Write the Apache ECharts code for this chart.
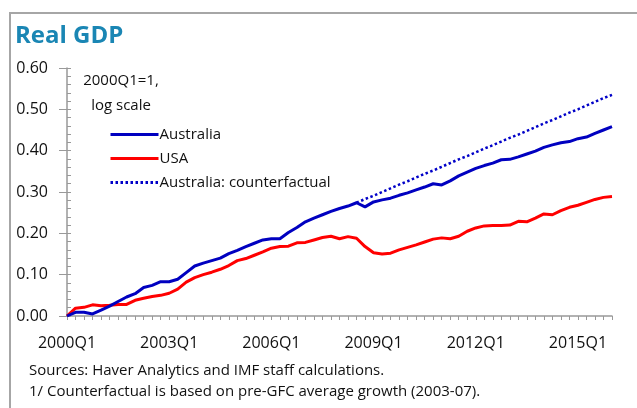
<!DOCTYPE html>
<html>
<head>
<meta charset="utf-8">
<script src="https://cdn.jsdelivr.net/npm/echarts@6/dist/echarts.min.js"></script>
<style>
  html, body { margin: 0; padding: 0; background: #fff; }
  #chart { width: 637px; height: 408px; }
</style>
</head>
<body>
<div id="chart"></div>
<script>
// quarters 2000Q1 .. 2016Q1
const quarters = [];
for (let y = 2000; y <= 2016; y++) {
  for (let q = 1; q <= 4; q++) {
    if (y === 2016 && q > 1) break;
    quarters.push(y + "Q" + q);
  }
}

const australia = [
  0.000, 0.009, 0.009, 0.005, 0.014, 0.024, 0.035, 0.046, 0.054, 0.069,
  0.074, 0.083, 0.083, 0.089, 0.105, 0.121, 0.128, 0.134, 0.140, 0.151,
  0.159, 0.168, 0.176, 0.184, 0.187, 0.187, 0.202, 0.214, 0.228, 0.237,
  0.245, 0.253, 0.260, 0.266, 0.274, 0.264, 0.276, 0.281, 0.285, 0.292,
  0.298, 0.305, 0.312, 0.320, 0.317, 0.327, 0.339, 0.348, 0.357, 0.364,
  0.370, 0.378, 0.379, 0.385, 0.392, 0.399, 0.408, 0.414, 0.419, 0.422,
  0.429, 0.433, 0.442, 0.450, 0.458
];

const usa = [
  0.000, 0.019, 0.021, 0.027, 0.025, 0.026, 0.028, 0.028, 0.038, 0.043,
  0.047, 0.050, 0.055, 0.065, 0.082, 0.093, 0.100, 0.106, 0.113, 0.122,
  0.134, 0.139, 0.147, 0.155, 0.164, 0.168, 0.169, 0.177, 0.178, 0.184,
  0.190, 0.193, 0.187, 0.192, 0.188, 0.168, 0.153, 0.150, 0.152, 0.160,
  0.166, 0.172, 0.179, 0.186, 0.189, 0.187, 0.193, 0.205, 0.213, 0.218,
  0.219, 0.219, 0.220, 0.229, 0.228, 0.237, 0.247, 0.245, 0.255, 0.263,
  0.268, 0.275, 0.282, 0.287, 0.289
];

// counterfactual starts at 2008Q3
const counterStart = 34;
const counterfactual = [
  0.274, 0.283, 0.291, 0.300, 0.309, 0.318, 0.326, 0.335, 0.344, 0.352,
  0.361, 0.370, 0.379, 0.387, 0.396, 0.405, 0.413, 0.422, 0.431, 0.439,
  0.448, 0.457, 0.466, 0.474, 0.483, 0.492, 0.500, 0.509, 0.518, 0.527,
  0.535
];

const FONT = "Open Sans";
const counterData = quarters.map((q, i) =>
  i < counterStart ? null : counterfactual[i - counterStart]);

const chart = echarts.init(document.getElementById("chart"));

chart.setOption({
  animation: false,
  backgroundColor: "#fff",
  textStyle: { fontFamily: FONT },
  grid: { left: 67, right: 25, top: 68, bottom: 92 },
  legend: {
    orient: "vertical",
    left: 104,
    top: 122,
    itemWidth: 48,
    itemHeight: 12,
    itemGap: 9,
    itemStyle: { opacity: 0 },
    lineStyle: { width: 3 },
    textStyle: { fontFamily: FONT, fontSize: 15, color: "#111", padding: [0, 0, 0, -4] },
    data: ["Australia", "USA", "Australia: counterfactual"]
  },
  xAxis: {
    type: "category",
    data: quarters,
    boundaryGap: false,
    axisLine: { lineStyle: { color: "#999", width: 1.5 } },
    axisTick: { interval: 0, length: 4, lineStyle: { color: "#999" } },
    axisLabel: {
      interval: 11,
      margin: 19,
      fontSize: 16,
      color: "#111",
      fontFamily: FONT
    },
    splitLine: { show: false }
  },
  yAxis: [
    {
      type: "value",
      min: 0,
      max: 0.6,
      interval: 0.1,
      axisLine: { show: true, lineStyle: { color: "#999", width: 1.5 } },
      axisTick: { show: true, length: 8, lineStyle: { color: "#999" } },
      axisLabel: {
        margin: 19,
        fontSize: 16,
        color: "#111",
        fontFamily: FONT,
        formatter: (v) => v.toFixed(2)
      },
      splitLine: { show: false }
    },
    {
      type: "value",
      position: "left",
      min: 0,
      max: 0.6,
      interval: 0.02,
      axisLine: { show: false },
      axisTick: { show: true, inside: true, length: 4, lineStyle: { color: "#999" } },
      axisLabel: { show: false },
      splitLine: { show: false }
    }
  ],
  graphic: [
    {
      type: "rect",
      silent: true,
      shape: { x: 10, y: 13, width: 700, height: 500 },
      style: { fill: "none", stroke: "#a6a6a6", lineWidth: 2 }
    },
    {
      type: "text",
      left: 15,
      top: 24,
      style: {
        text: "Real GDP",
        fontFamily: FONT,
        fontWeight: "bold",
        fontSize: 24,
        fill: "#1a86b4"
      }
    },
    {
      type: "text",
      x: 121,
      y: 81,
      style: {
        text: "2000Q1=1,",
        fontFamily: FONT,
        fontSize: 15,
        fill: "#111",
        textAlign: "center",
        textVerticalAlign: "middle"
      }
    },
    {
      type: "text",
      x: 121,
      y: 106,
      style: {
        text: "log scale",
        fontFamily: FONT,
        fontSize: 15,
        fill: "#111",
        textAlign: "center",
        textVerticalAlign: "middle"
      }
    },
    {
      type: "text",
      left: 29,
      top: 363,
      style: {
        text: "Sources: Haver Analytics and IMF staff calculations.",
        fontFamily: FONT,
        fontSize: 15,
        fill: "#111"
      }
    },
    {
      type: "text",
      left: 29,
      top: 384,
      style: {
        text: "1/ Counterfactual is based on pre-GFC average growth (2003-07).",
        fontFamily: FONT,
        fontSize: 15,
        fill: "#111"
      }
    }
  ],
  series: [
    {
      name: "Australia",
      type: "line",
      data: australia,
      showSymbol: false,
      symbol: "none",
      lineStyle: { color: "#0000c0", width: 3 },
      itemStyle: { color: "#0000c0" },
      z: 3
    },
    {
      name: "USA",
      type: "line",
      data: usa,
      showSymbol: false,
      symbol: "none",
      lineStyle: { color: "#ff0000", width: 3 },
      itemStyle: { color: "#ff0000" },
      z: 2
    },
    {
      name: "Australia: counterfactual",
      type: "line",
      data: counterData,
      showSymbol: false,
      symbol: "none",
      lineStyle: { color: "#0000c8", width: 2.5, type: [2.5, 2.5] },
      itemStyle: { color: "#0000c8" },
      z: 1
    }
  ]
});
</script>
</body>
</html>
